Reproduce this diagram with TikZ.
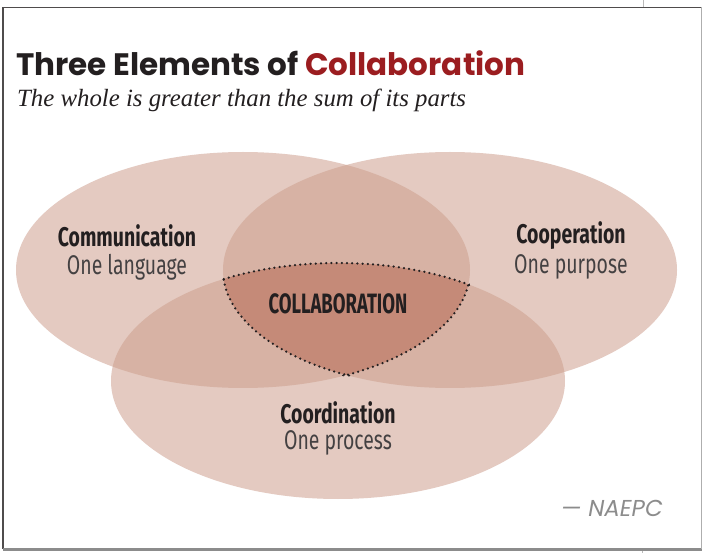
\documentclass[tikz,border=0pt]{standalone}
\usepackage{fontspec}
\setmainfont{Liberation Serif}
\newfontfamily\titlefont{Poppins}
\newfontfamily\condfont[FakeStretch=0.72]{Fira Sans}
\newfontfamily\corefont[FakeStretch=0.66]{Fira Sans}
\usetikzlibrary{calc}
\definecolor{petal}{HTML}{E4CAC1}
\definecolor{petaltwo}{HTML}{D7B2A4}
\definecolor{petalcore}{HTML}{C58A78}
\definecolor{brickred}{HTML}{9B1D20}
\definecolor{inkblack}{HTML}{231F20}
\definecolor{framegray}{HTML}{8C8C8C}
% the three ovals, in pixel units
\newcommand{\commoval}{(243,270) ellipse [x radius=227, y radius=118]}
\newcommand{\coopoval}{(450,270) ellipse [x radius=227, y radius=118]}
\newcommand{\coordoval}{(338,381) ellipse [x radius=227, y radius=118]}
\newcommand{\commwide}{(243,270) ellipse [x radius=229, y radius=120]}
\newcommand{\coopwide}{(450,270) ellipse [x radius=229, y radius=120]}
\newcommand{\coordwide}{(338,381) ellipse [x radius=229, y radius=120]}
\tikzset{
	headline/.style={font=\condfont\bfseries\fontsize{27}{30}\selectfont, text=inkblack, inner sep=0pt},
	tagline/.style={font=\condfont\fontsize{27}{30}\selectfont, text=inkblack!85, inner sep=0pt},
	dotline/.style={line width=2.5pt, dash pattern=on 0pt off 5.2pt, line cap=round, inkblack}
}

\begin{document}
\begin{tikzpicture}[x=1pt, y=-1pt]
\useasboundingbox (0,0) rectangle (702,553);
\fill[white] (0,0) rectangle (702,553);
% frame
\draw[inkblack!80, line width=1.2pt] (702,7.5) -- (3,7.5) -- (3,549);
\draw[framegray, line width=2.5pt] (3,549.5) -- (702,549.5);
\draw[framegray!70, line width=1pt] (701,7.5) -- (701,549);
\draw[framegray!60, line width=0.8pt] (643,0) -- (643,7);
\draw[framegray!60, line width=0.8pt] (642,551) -- (642,553);
% title
\node[anchor=base west, inner sep=0pt] (title) at (16,76) {\titlefont\bfseries\fontsize{31}{34}\selectfont\color{inkblack}Three Elements of \textcolor{brickred}{Collaboration}};
\node[anchor=base west, inner sep=0pt] (subtitle) at (17,107) {\itshape\fontsize{24.8}{28}\selectfont\color{inkblack}The whole is greater than the sum of its parts};
% ovals
\fill[petal] \commoval;
\fill[petal] \coopoval;
\fill[petal] \coordoval;
\begin{scope}
	\clip \commoval;
	\fill[petaltwo] \coopoval;
	\fill[petaltwo] \coordoval;
\end{scope}
\begin{scope}
	\clip \coopoval;
	\fill[petaltwo] \coordoval;
\end{scope}
\begin{scope}
	\clip \commoval;
	\clip \coopoval;
	\fill[petalcore] \coordoval;
\end{scope}
% dotted edge of the core
\begin{scope}
	\clip \coopwide; \clip \coordwide;
	\draw[dotline] \commoval;
\end{scope}
\begin{scope}
	\clip \commwide; \clip \coordwide;
	\draw[dotline] \coopoval;
\end{scope}
\begin{scope}
	\clip \commwide; \clip \coopwide;
	\draw[dotline] \coordoval;
\end{scope}
% labels
\node[headline] (commhead) at (127,236) {Communication};
\node[tagline] (commtag) at (127,267) {One language};
\node[headline] (coophead) at (571,236) {Cooperation};
\node[tagline] (cooptag) at (571,267) {One purpose};
\node[headline] (coordhead) at (338,413) {Coordination};
\node[tagline] (coordtag) at (338,443) {One process};
\node[font=\corefont\bfseries\fontsize{28}{30}\selectfont, text=inkblack, inner sep=0pt] (core) at (338,304) {COLLABORATION};
\node[anchor=east, inner sep=0pt, font=\titlefont\itshape\fontsize{23}{26}\selectfont, text=framegray] (source) at (663,508) {— NAEPC};
\end{tikzpicture}
\end{document}
